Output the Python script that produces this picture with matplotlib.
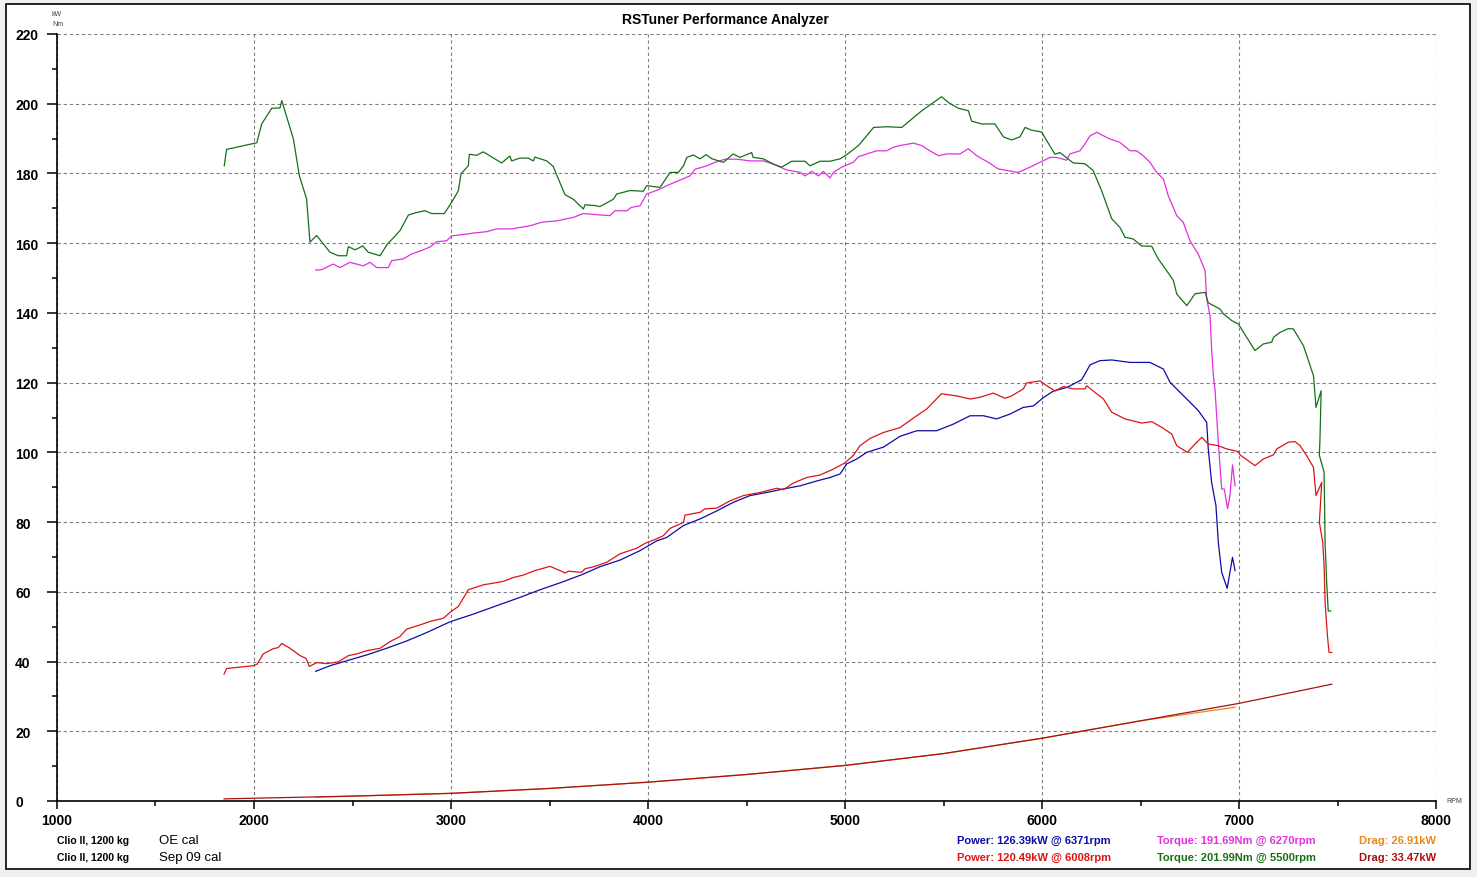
import matplotlib
matplotlib.use("Agg")
import matplotlib.pyplot as plt
from matplotlib.patches import Rectangle
from matplotlib.ticker import MultipleLocator

plt.rcParams['font.family'] = ['Liberation Sans', 'DejaVu Sans']

W, H = 1477, 878

# run 1 (OE cal): power / torque / drag
b_rpm = [2313, 2386, 2470, 2572, 2673, 2775, 2876, 2995, 3113, 3231,
         3350, 3452, 3570, 3672, 3756, 3858, 3959, 4044, 4095, 4180,
         4264, 4349, 4434, 4518, 4603, 4688, 4772, 4857, 4924, 4975,
         5009, 5060, 5110, 5195, 5279, 5364, 5465, 5550, 5635, 5703,
         5770, 5838, 5905, 5956, 6007, 6058, 6125, 6201, 6244, 6294,
         6354, 6447, 6548, 6616, 6650, 6701, 6751, 6793, 6836, 6844,
         6861, 6883, 6895, 6912, 6940, 6954, 6967, 6980]
b_kw = [37.2, 38.8, 40.2, 41.9, 43.8, 45.9, 48.3, 51.4, 53.6, 56.0,
        58.4, 60.6, 62.9, 65.1, 67.2, 69.1, 71.8, 74.6, 75.6, 79.0,
        80.9, 83.2, 85.7, 87.6, 88.5, 89.5, 90.4, 91.8, 92.8, 93.8,
        96.7, 98.1, 100.0, 101.5, 104.6, 106.2, 106.2, 108.1, 110.5, 110.5,
        109.6, 111.0, 112.9, 113.3, 115.7, 117.6, 118.6, 120.8, 125.1, 126.3,
        126.5, 125.8, 125.8, 123.9, 120.1, 117.2, 114.4, 112.0, 108.6, 101.0,
        91.4, 84.7, 74.2, 65.6, 61.0, 65.6, 69.9, 66.1]

m_rpm = [2313, 2343, 2402, 2436, 2487, 2521, 2555, 2589, 2623, 2682,
         2699, 2758, 2800, 2851, 2893, 2927, 2978, 3003, 3079, 3113,
         3181, 3231, 3308, 3401, 3460, 3536, 3621, 3672, 3756, 3807,
         3832, 3892, 3917, 3959, 3993, 4061, 4095, 4154, 4213, 4239,
         4299, 4340, 4391, 4450, 4518, 4585, 4636, 4704, 4772, 4797,
         4831, 4865, 4890, 4924, 4941, 4983, 5042, 5068, 5110, 5161,
         5212, 5245, 5279, 5347, 5390, 5431, 5474, 5516, 5584, 5626,
         5668, 5727, 5777, 5828, 5878, 5939, 5990, 6041, 6075, 6125,
         6142, 6193, 6218, 6244, 6278, 6312, 6345, 6396, 6447, 6480,
         6514, 6548, 6582, 6616, 6641, 6684, 6717, 6751, 6793, 6828,
         6836, 6853, 6861, 6870, 6878, 6895, 6912, 6925, 6942, 6954,
         6967, 6980]
m_nm = [152.3, 152.4, 154.0, 153.0, 154.5, 154.0, 153.5, 154.5, 153.0, 153.0,
        155.0, 155.5, 156.9, 157.9, 158.9, 160.4, 160.7, 162.1, 162.6, 162.9,
        163.3, 164.1, 164.1, 165.0, 166.0, 166.4, 167.4, 168.5, 168.1, 167.9,
        169.3, 169.3, 170.3, 170.7, 174.1, 175.5, 176.5, 177.9, 179.3, 181.2,
        182.2, 183.2, 184.1, 184.1, 183.6, 183.6, 182.7, 181.0, 180.3, 179.3,
        180.6, 179.3, 180.6, 178.7, 180.3, 181.8, 183.2, 184.8, 185.6, 186.5,
        186.5, 187.5, 188.0, 188.7, 188.0, 186.5, 185.1, 185.6, 185.6, 187.1,
        185.1, 183.2, 181.3, 180.8, 180.3, 181.8, 183.2, 184.6, 184.6, 183.8,
        185.6, 186.5, 188.5, 190.8, 191.8, 190.8, 189.9, 188.9, 186.5, 186.5,
        185.1, 183.2, 180.3, 178.4, 173.6, 167.9, 166.0, 160.7, 156.9, 152.1,
        144.0, 139.2, 129.7, 122.0, 118.2, 102.9, 89.5, 89.5, 83.9, 87.6,
        96.4, 90.4]

d1_rpm = [2313, 2500, 3000, 3500, 4000, 4500, 5000, 5500, 6000, 6500, 6980]
d1_kw = [1.1, 1.4, 2.2, 3.6, 5.4, 7.6, 10.2, 13.6, 18.0, 23.0, 26.9]

# run 2 (Sep 09 cal)
r_rpm = [1848, 1861, 1996, 2017, 2047, 2098, 2123, 2141, 2183, 2234,
         2264, 2281, 2318, 2369, 2428, 2479, 2521, 2572, 2640, 2690,
         2741, 2775, 2843, 2893, 2961, 2995, 3037, 3088, 3164, 3266,
         3316, 3367, 3426, 3503, 3553, 3579, 3596, 3663, 3680, 3731,
         3791, 3858, 3943, 3985, 4044, 4078, 4112, 4180, 4188, 4264,
         4289, 4349, 4416, 4484, 4569, 4653, 4688, 4738, 4806, 4873,
         4941, 5000, 5042, 5076, 5127, 5195, 5279, 5364, 5414, 5490,
         5566, 5635, 5685, 5753, 5812, 5846, 5905, 5922, 5990, 6024,
         6066, 6109, 6159, 6218, 6227, 6260, 6312, 6354, 6421, 6506,
         6557, 6607, 6658, 6684, 6738, 6777, 6811, 6844, 6895, 6937,
         6997, 7005, 7081, 7124, 7175, 7192, 7250, 7284, 7310, 7344,
         7378, 7391, 7420, 7408, 7425, 7432, 7437, 7449, 7457, 7471]
r_kw = [36.4, 38.0, 38.8, 39.3, 42.2, 43.7, 44.0, 45.2, 43.8, 41.7,
        40.9, 38.6, 39.7, 39.4, 39.9, 41.7, 42.2, 43.1, 43.8, 45.7,
        47.2, 49.3, 50.5, 51.5, 52.4, 54.1, 55.8, 60.6, 62.0, 63.0,
        64.1, 64.8, 66.1, 67.3, 66.1, 65.4, 65.9, 65.6, 66.6, 67.3,
        68.5, 70.9, 72.5, 73.9, 75.2, 76.1, 78.2, 79.9, 82.0, 82.8,
        83.8, 84.0, 86.1, 87.6, 88.5, 89.7, 89.3, 91.2, 92.8, 93.5,
        95.2, 97.0, 99.1, 101.9, 104.0, 105.7, 107.1, 110.5, 112.4, 116.8,
        116.2, 115.3, 115.8, 117.0, 115.5, 116.2, 118.2, 119.9, 120.5, 119.1,
        117.6, 118.9, 118.2, 118.2, 119.1, 117.6, 115.3, 111.5, 109.6, 108.4,
        108.8, 107.2, 105.3, 101.9, 100.0, 102.4, 104.3, 102.4, 101.9, 101.0,
        100.2, 99.3, 96.2, 98.1, 99.3, 101.0, 102.9, 103.1, 101.9, 99.0,
        95.7, 87.6, 91.4, 79.9, 74.2, 67.5, 56.9, 47.4, 42.6, 42.6]

g_rpm = [1849, 1861, 2014, 2039, 2090, 2132, 2141, 2200, 2230, 2267,
         2284, 2318, 2386, 2428, 2470, 2479, 2513, 2552, 2580, 2640,
         2674, 2741, 2784, 2826, 2868, 2902, 2966, 3003, 3037, 3051,
         3088, 3093, 3130, 3164, 3257, 3299, 3308, 3350, 3392, 3418,
         3426, 3486, 3519, 3545, 3579, 3621, 3672, 3680, 3731, 3756,
         3824, 3841, 3909, 3976, 3993, 4061, 4112, 4154, 4180, 4197,
         4230, 4264, 4295, 4324, 4383, 4432, 4467, 4526, 4534, 4585,
         4636, 4678, 4729, 4797, 4822, 4873, 4924, 4975, 5009, 5068,
         5110, 5145, 5212, 5288, 5390, 5490, 5524, 5575, 5626, 5643,
         5693, 5761, 5804, 5846, 5888, 5914, 5947, 5998, 6024, 6066,
         6091, 6159, 6218, 6260, 6303, 6354, 6396, 6421, 6463, 6506,
         6557, 6590, 6633, 6667, 6684, 6735, 6777, 6828, 6844, 6904,
         6921, 6963, 6997, 7039, 7081, 7124, 7166, 7175, 7208, 7250,
         7276, 7327, 7378, 7391, 7417, 7411, 7408, 7432, 7437, 7445,
         7453, 7465]
g_nm = [182.2, 186.9, 188.8, 194.2, 198.7, 198.8, 200.9, 189.9, 179.4, 172.7,
        160.3, 162.2, 157.4, 156.4, 156.4, 159.0, 158.1, 159.2, 157.4, 156.4,
        159.5, 163.6, 168.1, 168.8, 169.3, 168.5, 168.5, 171.7, 175.0, 179.9,
        182.2, 185.5, 185.2, 186.2, 183.0, 185.0, 183.6, 184.4, 184.4, 183.6,
        184.7, 183.6, 182.0, 178.4, 173.9, 172.6, 169.8, 171.0, 170.8, 170.5,
        172.6, 174.1, 175.1, 174.9, 176.5, 176.0, 180.3, 180.3, 182.2, 184.6,
        185.3, 184.2, 185.4, 184.2, 183.2, 185.6, 184.6, 186.0, 184.6, 184.2,
        182.7, 181.8, 183.5, 183.5, 182.2, 183.5, 183.5, 184.2, 185.4, 188.0,
        190.8, 193.2, 193.4, 193.2, 198.0, 202.0, 200.4, 198.7, 198.0, 195.0,
        194.2, 194.2, 190.5, 189.6, 190.5, 193.2, 192.4, 191.9, 189.4, 185.5,
        186.0, 183.0, 182.8, 180.8, 175.0, 167.0, 164.5, 161.7, 161.2, 159.2,
        159.1, 155.5, 152.1, 149.3, 145.4, 142.1, 145.5, 145.9, 142.9, 141.1,
        139.7, 137.8, 136.8, 133.0, 129.2, 131.1, 131.6, 133.0, 134.4, 135.5,
        135.4, 130.6, 122.0, 112.9, 117.7, 103.8, 99.1, 94.3, 74.2, 62.7,
        54.5, 54.5]

d2_rpm = [1848, 2000, 2500, 3000, 3500, 4000, 4500, 5000, 5500, 6000, 6500, 7000, 7471]
d2_kw = [0.6, 0.8, 1.4, 2.2, 3.6, 5.4, 7.6, 10.2, 13.6, 18.0, 23.0, 28.0, 33.5]

runs = ["OE cal", "Sep 09 cal"]
car = "Clio II, 1200 kg"
power_lbl = ["Power: 126.39kW @ 6371rpm", "Power: 120.49kW @ 6008rpm"]
torque_lbl = ["Torque: 191.69Nm @ 6270rpm", "Torque: 201.99Nm @ 5500rpm"]
drag_lbl = ["Drag: 26.91kW", "Drag: 33.47kW"]

c_blue, c_mag, c_org = "#0c0ca8", "#e030e0", "#e8881c"
c_red, c_grn, c_drd = "#dd1414", "#157015", "#a81010"

fig = plt.figure(figsize=(W / 100, H / 100), dpi=100, facecolor="#f0f0f0")
fig.patches.append(Rectangle((6 / W, 1 - 870 / H), 1464 / W, 865 / H,
                             transform=fig.transFigure, facecolor="white",
                             edgecolor="black", lw=1.2, zorder=-1))

ax = fig.add_axes([57 / W, 76 / H, 1379 / W, 767 / H])
ax.set_facecolor("none")
ax.set_xlim(1000, 8000)
ax.set_ylim(0, 220)

for s in ["top", "right"]:
    ax.spines[s].set_visible(False)
for s in ["left", "bottom"]:
    ax.spines[s].set_linewidth(1.2)

ax.xaxis.set_major_locator(MultipleLocator(1000))
ax.xaxis.set_minor_locator(MultipleLocator(500))
ax.yaxis.set_major_locator(MultipleLocator(20))
ax.yaxis.set_minor_locator(MultipleLocator(10))
ax.tick_params(axis="x", which="major", length=6, width=1.1, pad=3, labelsize=10)
ax.tick_params(axis="x", which="minor", length=3.5, width=1.1)
ax.tick_params(axis="y", which="major", length=7.2, width=1.1, pad=23, labelsize=10)
ax.tick_params(axis="y", which="minor", length=3.6, width=1.1)
for lab in ax.get_xticklabels() + ax.get_yticklabels():
    lab.set_fontweight("bold")
for lab in ax.get_yticklabels():
    lab.set_horizontalalignment("left")

ax.grid(True, which="major", color="#808080", lw=0.8, linestyle=(0, (3, 2.5)))
ax.set_axisbelow(True)

lw = 0.9
ax.plot(d1_rpm, d1_kw, color=c_org, lw=lw)
ax.plot(d2_rpm, d2_kw, color=c_drd, lw=lw)
ax.plot(b_rpm, b_kw, color=c_blue, lw=lw)
ax.plot(m_rpm, m_nm, color=c_mag, lw=lw)
ax.plot(r_rpm, r_kw, color=c_red, lw=lw)
ax.plot(g_rpm, g_nm, color=c_grn, lw=lw)

fig.text(725 / W, 1 - 20 / H, "RSTuner Performance Analyzer", ha="center",
         va="center", fontsize=10, fontweight="bold")
fig.text(52 / W, 1 - 14 / H, "kW", fontsize=5, color="#404040", va="center")
fig.text(52 / W, 1 - 24 / H, "Nm", fontsize=5, color="#404040", va="center")
fig.text(1446 / W, 1 - 802 / H, "RPM", fontsize=5, color="#404040", va="center")

rows = [841, 858]
pcol = [c_blue, c_red]
tcol = [c_mag, c_grn]
dcol = [c_org, c_drd]
for i, yy in enumerate(rows):
    y = 1 - yy / H
    fig.text(57 / W, y, car, fontsize=7.5, fontweight="bold", va="center")
    fig.text(159 / W, y, runs[i], fontsize=9.5, va="center")
    fig.text(957 / W, y, power_lbl[i], fontsize=8, fontweight="bold",
             color=pcol[i], va="center")
    fig.text(1157 / W, y, torque_lbl[i], fontsize=8, fontweight="bold",
             color=tcol[i], va="center")
    fig.text(1436 / W, y, drag_lbl[i], fontsize=8, fontweight="bold",
             color=dcol[i], va="center", ha="right")

fig.savefig("out.png", dpi=100, facecolor=fig.get_facecolor())
